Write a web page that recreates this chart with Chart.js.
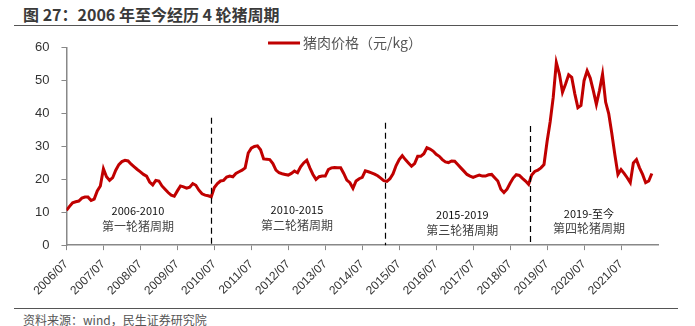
<!DOCTYPE html>
<html>
<head>
<meta charset="utf-8">
<script src="https://cdn.jsdelivr.net/npm/chart.js@4.4.1/dist/chart.umd.min.js"></script>
<style>
  body { margin: 0; background: #fff; width: 695px; height: 326px; overflow: hidden; position: relative; font-family: "Noto Sans CJK SC", "Noto Sans", sans-serif; }
  #title { position: absolute; left: 23px; top: 2px; font-size: 16px; font-weight: bold; color: #3a3a3a; }
  #topRule { position: absolute; left: 14px; top: 25px; width: 664px; height: 0; border-top: 1.5px solid #555; }
  #bottomRule { position: absolute; left: 14px; top: 308px; width: 664px; height: 0; border-top: 1.5px solid #555; }
  #source { position: absolute; left: 23px; top: 311px; font-size: 12px; color: #555; }
  #wrap { position: absolute; left: 0; top: 28px; width: 695px; height: 277px; }
</style>
</head>
<body>
<div id="title">图 27：2006 年至今经历 4 轮猪周期</div>
<div id="topRule"></div>
<div id="wrap"><canvas id="pigChart"></canvas></div>
<div id="bottomRule"></div>
<div id="source">资料来源：wind，民生证券研究院</div>
<script>
// monthly pork price (元/kg), first point = 2006/07
const firstMonth = [2006, 7];
const prices = [
  10.6, 11.8, 12.9, 13.2, 13.4, 14.3, 14.6, 14.6, 13.6, 14.0, 16.5, 18.0,
  23.2, 20.8, 19.7, 20.5, 22.8, 24.5, 25.4, 25.8, 25.6, 24.6, 23.8, 23.0,
  22.3, 21.5, 21.0, 19.2, 18.3, 19.7, 19.5, 18.0, 17.0, 16.0, 15.2, 14.9,
  16.5, 18.0, 17.7, 17.3, 17.6, 18.7, 18.2, 16.7, 15.6, 15.2, 15.0, 14.7,
  17.5, 18.7, 19.5, 19.7, 20.7, 21.0, 20.8, 21.8, 22.3, 22.8, 23.5, 28.0,
  29.5, 30.0, 30.2, 29.0, 26.2, 26.1, 26.0, 24.8, 22.8, 22.0, 21.7, 21.5,
  21.3, 21.8, 22.5, 22.0, 23.8, 25.0, 25.8, 23.5, 21.5, 20.0, 20.8, 21.0,
  21.0, 23.0, 23.5, 23.6, 23.5, 23.5, 21.8, 19.8, 19.0, 17.3, 19.5, 20.2,
  20.6, 22.6, 22.3, 22.0, 21.6, 21.1, 20.4, 19.6, 19.4, 20.2, 21.7, 24.2,
  26.0, 27.2, 26.0, 25.0, 24.0, 24.8, 27.0, 27.0, 27.8, 29.6, 29.2, 28.6,
  27.6, 27.0, 26.0, 25.3, 25.1, 25.6, 25.5, 24.5, 23.5, 22.5, 21.5, 21.0,
  20.6, 21.0, 21.3, 21.0, 21.0, 21.4, 21.5, 20.5, 19.5, 17.0, 16.0, 17.0,
  18.8, 20.4, 21.4, 21.2, 20.3, 19.5, 18.5, 21.3, 22.4, 22.8, 23.5, 24.5,
  31.5, 37.5, 45.0, 55.5, 52.0, 46.5, 49.0, 51.8, 51.0, 46.0, 41.8, 42.5,
  50.0, 53.0, 50.8, 47.0, 42.8, 47.0, 52.0, 43.5, 40.0, 34.0, 27.5, 21.5,
  23.0, 21.8, 20.5, 19.0, 25.0, 26.0, 23.5, 21.5, 19.0, 19.5, 21.8
];
const yearLabels = ['2006/07', '2007/07', '2008/07', '2009/07', '2010/07', '2011/07', '2012/07', '2013/07',
  '2014/07', '2015/07', '2016/07', '2017/07', '2018/07', '2019/07', '2020/07', '2021/07'];
const seriesName = '猪肉价格（元/kg）';
// cycle boundaries in months after 2006/07, and top of the dashed line (元/kg)
const cycleBreaks = [47.0, 103.4, 150.4];
const breakTops = [38.7, 37.2, 36.2];
const cycleYears = ['2006-2010', '2010-2015', '2015-2019', '2019-至今'];
const cycleNames = ['第一轮猪周期', '第二轮猪周期', '第三轮猪周期', '第四轮猪周期'];
const cycleCenters = [23.2, 74.8, 128.5, 169.6];

const labelRowY = [10.3, 10.6, 9.1, 9.6];

const points = prices.map((v, i) => ({ x: i, y: v }));

const cyclePlugin = {
  id: 'cycles',
  afterDatasetsDraw(chart) {
    const ctx = chart.ctx;
    const xs = chart.scales.x, ys = chart.scales.y;
    ctx.save();
    ctx.strokeStyle = '#000';
    ctx.lineWidth = 1.2;
    ctx.setLineDash([6, 4]);
    cycleBreaks.forEach((m, i) => {
      const px = Math.round(xs.getPixelForValue(m)) + 0.5;
      ctx.beginPath();
      ctx.moveTo(px, ys.getPixelForValue(breakTops[i]));
      ctx.lineTo(px, ys.getPixelForValue(0));
      ctx.stroke();
    });
    ctx.setLineDash([]);
    ctx.textAlign = 'center';
    ctx.textBaseline = 'middle';
    cycleCenters.forEach((m, i) => {
      const px = xs.getPixelForValue(m);
      const py = ys.getPixelForValue(labelRowY[i]);
      ctx.fillStyle = '#111';
      ctx.font = '11px "Noto Sans CJK SC", sans-serif';
      ctx.fillText(cycleYears[i], px, py);
      ctx.fillStyle = '#444';
      ctx.font = '12px "Noto Sans CJK SC", sans-serif';
      ctx.fillText(cycleNames[i], px, py + 15);
    });
    // legend: red line + name above the plot
    ctx.font = '14px "Noto Sans CJK SC", sans-serif';
    const tw = ctx.measureText(seriesName).width;
    const lx = 345 - (32 + 3 + tw) / 2;
    ctx.strokeStyle = '#C00000';
    ctx.lineWidth = 3;
    ctx.beginPath();
    ctx.moveTo(lx, 15);
    ctx.lineTo(lx + 32, 15);
    ctx.stroke();
    ctx.fillStyle = '#555';
    ctx.textAlign = 'left';
    ctx.fillText(seriesName, lx + 35, 15);
    ctx.restore();
  }
};

new Chart(document.getElementById('pigChart'), {
  type: 'line',
  data: {
    datasets: [{
      label: seriesName,
      data: points,
      borderColor: '#C00000',
      backgroundColor: '#C00000',
      borderWidth: 3,
      pointRadius: 0,
      tension: 0
    }]
  },
  options: {
    responsive: true,
    maintainAspectRatio: false,
    animation: false,
    layout: { padding: { left: 23, right: 37, top: 19, bottom: 0 } },
    plugins: {
      legend: { display: false },
      tooltip: { enabled: false }
    },
    scales: {
      x: {
        type: 'linear',
        min: 0,
        max: 192,
        afterBuildTicks: axis => { axis.ticks = yearLabels.map((l, i) => ({ value: i * 12 })); },
        grid: { display: true, drawOnChartArea: false, color: '#888', tickLength: 5 },
        border: { color: '#888', width: 1.5 },
        ticks: {
          autoSkip: false,
          maxRotation: 45,
          minRotation: 45,
          padding: 7,
          color: '#333',
          font: { size: 12, family: '"Liberation Sans", sans-serif' },
          callback: v => yearLabels[v / 12]
        }
      },
      y: {
        min: 0,
        max: 60,
        ticks: { stepSize: 10, color: '#333', padding: 12, font: { size: 13, family: '"Liberation Sans", sans-serif' } },
        grid: { display: true, drawOnChartArea: false, color: '#888', tickLength: 5 },
        border: { color: '#888', width: 1.5 }
      }
    }
  },
  plugins: [cyclePlugin]
});
</script>
</body>
</html>
